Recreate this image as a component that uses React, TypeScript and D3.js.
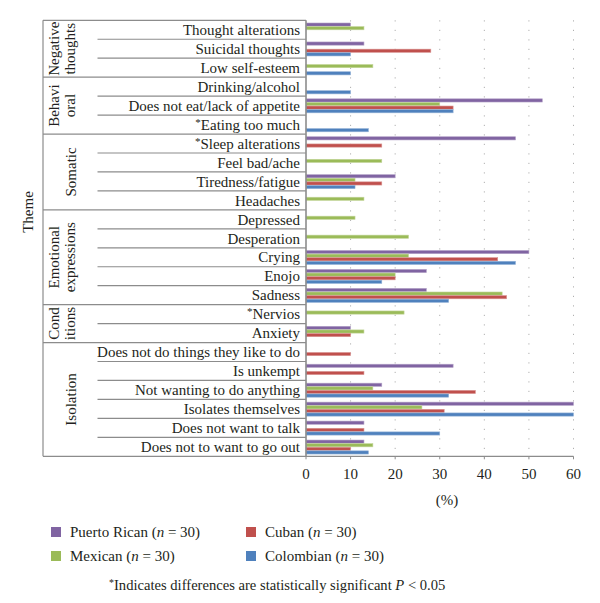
import React from "react";
import * as d3 from "d3";

const categories = [
  "Thought alterations",
  "Suicidal thoughts",
  "Low self-esteem",
  "Drinking/alcohol",
  "Does not eat/lack of appetite",
  "*Eating too much",
  "*Sleep alterations",
  "Feel bad/ache",
  "Tiredness/fatigue",
  "Headaches",
  "Depressed",
  "Desperation",
  "Crying",
  "Enojo",
  "Sadness",
  "*Nervios",
  "Anxiety",
  "Does not do things they like to do",
  "Is unkempt",
  "Not wanting to do anything",
  "Isolates themselves",
  "Does not want to talk",
  "Does not to want to go out",
];

const groupNames = [
  ["Negative", "thoughts"],
  ["Behavi", "oral"],
  ["Somatic"],
  ["Emotional", "expressions"],
  ["Cond", "itions"],
  ["Isolation"],
];
const groupSizes = [3, 3, 4, 5, 2, 6];

const puertoRican = [10, 13, 0, 0, 53, 0, 47, 0, 20, 0, 0, 0, 50, 27, 27, 0, 10, 0, 33, 17, 60, 13, 13];
const mexican = [13, 0, 15, 0, 30, 0, 0, 17, 11, 13, 11, 23, 23, 20, 44, 22, 13, 0, 0, 15, 26, 0, 15];
const cuban = [0, 28, 0, 0, 33, 0, 17, 0, 17, 0, 0, 0, 43, 20, 45, 0, 10, 10, 13, 38, 31, 13, 10];
const colombian = [0, 10, 10, 10, 33, 14, 0, 0, 11, 0, 0, 0, 47, 17, 32, 0, 0, 0, 0, 32, 60, 30, 14];

const seriesNames = ["Puerto Rican", "Mexican", "Cuban", "Colombian"];
const seriesColors = ["#8064A2", "#9BBB59", "#C0504D", "#4F81BD"];
const seriesStroke = ["#B3A2C7", "#C3D69B", "#D99694", "#95B3D7"];
const xTicks = [0, 10, 20, 30, 40, 50, 60];

const FONT = "'Liberation Serif', 'Times New Roman', serif";
const TXT = "#231f20";

function Label({ x, y, text }: { x: number; y: number; text: string }) {
  const base = y + 5.2;
  if (text.startsWith("*")) {
    return (
      <text x={x} y={base} textAnchor="end" fontSize={15} fontFamily={FONT} fill={TXT}>
        <tspan fontSize={11} dy={-4}>*</tspan>
        <tspan dy={4}>{text.slice(1)}</tspan>
      </text>
    );
  }
  return (
    <text x={x} y={base} textAnchor="end" fontSize={15} fontFamily={FONT} fill={TXT}>
      {text}
    </text>
  );
}

export default function App() {
  const W = 600;
  const H = 603;
  const plotTop = 20.3;
  const plotBottom = 456.3;
  const axisX = 306;
  const x0 = 43;
  const catX = 97.5;

  const x = d3.scaleLinear().domain([0, 60]).range([axisX, 573.5]);
  const y = d3.scaleBand<number>().domain(d3.range(categories.length)).range([plotTop, plotBottom]);
  const rowH = y.bandwidth();
  const inner = d3.scaleBand<number>().domain([0, 1, 2, 3]).range([2.5, 16.9]);
  const data = [puertoRican, mexican, cuban, colombian];

  const groupStarts: number[] = [];
  let acc = 0;
  groupSizes.forEach((s) => {
    groupStarts.push(acc);
    acc += s;
  });

  const lineColor = "#8c8c8c";

  return (
    <svg width={W} height={H} style={{ position: "absolute", left: 0, top: 0, background: "#fff" }}>
      {/* gridlines */}
      {xTicks.slice(1).map((t) => (
        <line key={"g" + t} x1={x(t)} x2={x(t)} y1={plotTop} y2={plotBottom} stroke="#b0b0b0" strokeWidth={1} strokeDasharray="1.2,8.3" />
      ))}

      {/* category separators */}
      {d3.range(categories.length + 1).map((i) => {
        const yy = i < categories.length ? y(i)! : plotBottom;
        const isGroupEdge = i === 0 || i === categories.length || groupStarts.includes(i);
        return (
          <line
            key={"s" + i}
            x1={isGroupEdge ? x0 : catX}
            x2={i === categories.length ? x(60) : axisX}
            y1={yy}
            y2={yy}
            stroke={lineColor}
            strokeWidth={1.2}
          />
        );
      })}
      <line x1={x0} x2={x0} y1={plotTop} y2={plotBottom} stroke={lineColor} strokeWidth={1.2} />

      {/* bars */}
      {data.map((vals, si) =>
        vals.map((v, ci) =>
          v > 0 ? (
            <rect
              key={`b${si}-${ci}`}
              x={x(0)}
              y={y(ci)! + inner(si)! + 0.2}
              width={x(v) - x(0)}
              height={inner.bandwidth() - 0.4}
              fill={seriesColors[si]}
              stroke={seriesStroke[si]}
              strokeWidth={0.6}
            />
          ) : null
        )
      )}

      {/* axes */}
      <line x1={axisX} x2={axisX} y1={plotTop} y2={plotBottom} stroke={lineColor} strokeWidth={1.6} />
      {xTicks.map((t) => (
        <g key={"t" + t}>
          <line x1={x(t)} x2={x(t)} y1={plotBottom} y2={plotBottom + 3} stroke={lineColor} strokeWidth={1} />
          <text x={x(t)} y={plotBottom + 23} textAnchor="middle" fontSize={15} fontFamily={FONT} fill={TXT}>
            {t}
          </text>
        </g>
      ))}
      <text x={447} y={505} textAnchor="middle" fontSize={15} fontFamily={FONT} fill={TXT}>
        (%)
      </text>

      {/* category labels */}
      {categories.map((c, i) => (
        <Label key={"c" + i} x={300} y={y(i)! + rowH / 2} text={c} />
      ))}

      {/* group labels */}
      {groupNames.map((lines, gi) => {
        const start = y(groupStarts[gi])!;
        const end = start + groupSizes[gi] * rowH;
        const cy = (start + end) / 2;
        const xs = lines.length === 2 ? [53.5, 70] : [70.5];
        return lines.map((ln, li) => (
          <text
            key={`gl${gi}-${li}`}
            transform={`translate(${xs[li] + 5},${cy}) rotate(-90)`}
            textAnchor="middle"
            fontSize={15}
            fontFamily={FONT}
            fill={TXT}
          >
            {ln}
          </text>
        ));
      })}

      <text transform={`translate(33,212) rotate(-90)`} textAnchor="middle" fontSize={15} fontFamily={FONT} fill={TXT}>
        Theme
      </text>

      {/* legend */}
      {seriesNames.map((n, i) => {
        const col = i === 0 || i === 1 ? 0 : 1;
        const row = i === 0 || i === 2 ? 0 : 1;
        const lx = col === 0 ? 51 : 246;
        const ly = row === 0 ? 532 : 556;
        return (
          <g key={"l" + i}>
            <rect x={lx} y={ly - 5} width={10} height={10} fill={seriesColors[i]} />
            <text x={lx + 19} y={ly + 5.2} fontSize={15} fontFamily={FONT} fill={TXT}>
              {n} (<tspan fontStyle="italic">n</tspan> = 30)
            </text>
          </g>
        );
      })}

      <text x={109} y={590} fontSize={14.6} fontFamily={FONT} fill={TXT}>
        <tspan fontSize={10} dy={-4}>*</tspan>
        <tspan dy={4}>Indicates differences are statistically significant </tspan>
        <tspan fontStyle="italic">P</tspan>
        <tspan> &lt; 0.05</tspan>
      </text>
    </svg>
  );
}
